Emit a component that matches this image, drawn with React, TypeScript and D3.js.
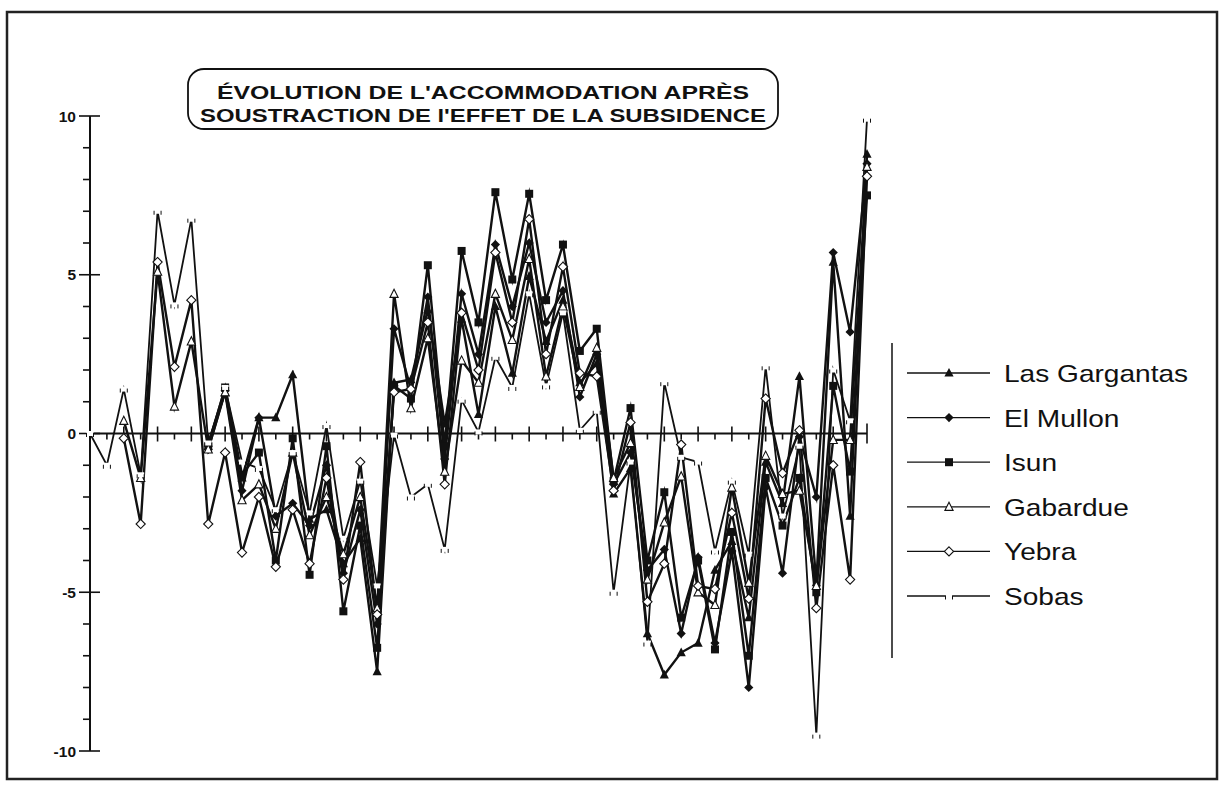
import React from 'react';
import * as d3 from 'd3';

const W = 1223;
const H = 785;

// points along the horizontal axis (one per tick), values in the units of the y axis
const steps = d3.range(0, 47);
const yTicks = d3.range(-10, 11);
const yLabels = [10, 5, 0, -5, -10];

const titleLines = ["ÉVOLUTION DE L'ACCOMMODATION APRÈS", "SOUSTRACTION DE l'EFFET DE LA SUBSIDENCE"];

const N = null;

const lasGargantas = [N, N, N, N, N, N, N, -0.3, 1.3, -1.4, 0.5, 0.5, 1.85, -2.7, -2.4, -4.1, -3.3, -7.5, 1.6, 1.7, 3.9, 0.3, 3.6, 0.6, 4.0, 1.9, 4.95, 2.9, 4.2, 1.6, 2.2, -1.9, -1.1, -6.3, -7.6, -6.9, -6.6, -4.3, -3.4, -5.8, -0.9, -2.2, 1.8, -4.7, 5.4, -2.6, 8.8];
const elMullon = [N, N, N, N, N, N, N, -0.5, 1.35, -1.8, 0.5, -2.6, -2.2, -2.9, -1.0, -4.4, -2.4, -6.0, 3.3, 1.4, 4.3, -0.8, 4.4, 2.5, 5.95, 4.0, 6.0, 3.5, 4.5, 1.15, 2.5, -1.6, -0.6, -4.3, -3.65, -6.3, -3.9, -6.6, -3.7, -8.0, -1.7, -4.4, -0.1, -2.0, 5.7, 3.2, 8.5];
const isun = [N, N, N, N, N, N, N, -0.4, 1.45, -1.3, -0.6, -4.0, -0.15, -4.45, -0.4, -5.6, -2.9, -6.75, 1.5, 1.1, 5.3, -0.4, 5.75, 3.5, 7.6, 4.85, 7.55, 4.2, 5.95, 2.6, 3.3, -1.5, 0.8, -4.0, -1.85, -5.8, -4.0, -6.8, -3.1, -7.0, -1.4, -2.9, -1.4, -5.0, 1.5, -1.2, 7.5];
const gabardue = [N, N, 0.4, -1.4, 5.1, 0.85, 2.9, -0.5, 1.3, -2.1, -1.6, -3.0, -0.6, -3.2, -2.0, -3.8, -2.0, -5.5, 4.4, 0.8, 3.0, -1.2, 2.3, 1.6, 4.4, 2.95, 5.5, 1.8, 4.0, 1.47, 2.7, -1.4, -0.3, -4.6, -2.8, -1.35, -5.0, -5.4, -1.7, -4.7, -0.7, -1.9, -1.8, -4.8, -0.2, -0.2, 8.4];
const yebra = [N, N, -0.15, -2.85, 5.4, 2.1, 4.2, -2.85, -0.6, -3.75, -2.0, -4.2, -2.4, -4.1, -1.4, -4.6, -0.9, -5.7, 1.3, 1.4, 3.5, -1.6, 3.8, 2.0, 5.7, 3.5, 6.75, 2.5, 5.25, 1.9, 1.8, -1.8, 0.35, -5.3, -4.1, -0.35, -4.8, -4.9, -2.5, -5.2, 1.1, -1.25, 0.1, -5.5, -1.0, -4.6, 8.1];
const sobas = [0, -1.0, 1.4, -1.3, 7.0, 4.05, 6.75, -0.3, 1.45, -0.9, -1.1, -2.4, -0.6, -2.5, 0.25, -3.3, -1.5, -4.8, -0.05, -2.0, -1.6, -3.65, 1.05, 0.05, 2.4, 1.45, 4.4, 1.5, 3.8, 0.1, 0.7, -5.0, -0.9, -6.6, 1.6, -0.75, -0.9, -3.7, -1.5, -3.8, 2.1, -2.6, -0.4, -9.5, 2.0, 0.4, 9.9];

const seriesNames = ['Las Gargantas', 'El Mullon', 'Isun', 'Gabardue', 'Yebra', 'Sobas'];
const seriesValues = [lasGargantas, elMullon, isun, gabardue, yebra, sobas];
const seriesMarkers = ['triangle', 'diamond', 'square', 'openTriangle', 'openDiamond', 'gap'];

const font = "'Liberation Sans', Arial, Helvetica, sans-serif";

const Marker = ({ type, x, y }: { type: string; x: number; y: number }) => {
  const s = 4.6;
  switch (type) {
    case 'triangle':
      return <path d={`M${x},${y - s - 0.5}L${x + s},${y + s - 1}L${x - s},${y + s - 1}Z`} fill="#111" />;
    case 'diamond':
      return <path d={`M${x},${y - s}L${x + s},${y}L${x},${y + s}L${x - s},${y}Z`} fill="#111" />;
    case 'square':
      return <rect x={x - 4} y={y - 4} width={8} height={8} fill="#111" />;
    case 'openTriangle':
      return <path d={`M${x},${y - s}L${x + s - 0.5},${y + s - 1}L${x - s + 0.5},${y + s - 1}Z`} fill="#fff" stroke="#111" strokeWidth={1.1} />;
    case 'openDiamond':
      return <path d={`M${x},${y - s}L${x + s},${y}L${x},${y + s}L${x - s},${y}Z`} fill="#fff" stroke="#111" strokeWidth={1.1} />;
    default:
      return (
        <g>
          <rect x={x - 3.5} y={y - 2.5} width={7} height={5} fill="#fff" />
          <line x1={x - 3.5} x2={x - 3.5} y1={y - 0.5} y2={y + 3.5} stroke="#111" strokeWidth={1} />
          <line x1={x + 3.5} x2={x + 3.5} y1={y - 0.5} y2={y + 3.5} stroke="#111" strokeWidth={1} />
        </g>
      );
  }
};

const App = () => {
  const x = d3.scaleLinear().domain([0, 46]).range([90, 867]);
  const y = d3.scaleLinear().domain([-10, 10]).range([751, 116]);

  const line = d3
    .line<number | null>()
    .defined((d) => d !== null)
    .x((d, i) => x(i))
    .y((d) => y(d as number));

  const legendY = d3.scalePoint<string>().domain(seriesNames).range([373, 596]);

  return (
    <svg width={W} height={H} style={{ position: 'absolute', left: 0, top: 0, background: '#fff' }} fontFamily={font}>
      <rect x={0} y={0} width={W} height={H} fill="#fff" />
      {/* outer frame */}
      <rect x={7} y={12} width={1210} height={767} fill="none" stroke="#222" strokeWidth={2.5} />

      {/* title box */}
      <rect x={188} y={69} width={590} height={60} rx={16} ry={16} fill="#fff" stroke="#111" strokeWidth={1.8} />
      {titleLines.map((t, i) => (
        <text key={t} x={483} y={99 + i * 23} textAnchor="middle" fontSize={17.5} fontWeight="bold" fill="#111"
          textLength={i === 0 ? 532 : 566} lengthAdjust="spacingAndGlyphs">
          {t}
        </text>
      ))}

      {/* y axis */}
      <line x1={x(0)} x2={x(0)} y1={y(10)} y2={y(-10)} stroke="#111" strokeWidth={2} />
      {yTicks.map((t) => (
        <line key={t} x1={t % 5 === 0 ? x(0) - 11 : x(0) - 7} x2={t % 5 === 0 ? x(0) + 10 : x(0)} y1={y(t)} y2={y(t)} stroke="#111" strokeWidth={1.6} />
      ))}
      {yLabels.map((t) => (
        <text key={t} x={x(0) - 14} y={y(t) + 5.5} textAnchor="end" fontSize={15.5} fontWeight="bold" fill="#111">
          {t}
        </text>
      ))}

      {/* x axis on the zero line */}
      <line x1={x(0)} x2={x(46)} y1={y(0)} y2={y(0)} stroke="#111" strokeWidth={2} />
      {steps.slice(1).map((s) => {
        const last = s === 46;
        const long = s % 2 === 0;
        return (
          <line key={s} x1={x(s)} x2={x(s)} y1={last ? y(0) - 10 : long ? y(0) - 7 : y(0)} y2={last ? y(0) + 10 : long ? y(0) + 8 : y(0) + 6}
            stroke="#111" strokeWidth={1.6} />
        );
      })}

      {/* series lines */}
      {seriesValues.map((vals, k) => (
        <path key={seriesNames[k]} d={line(vals) || ''} fill="none" stroke="#111" strokeWidth={k === 5 ? 1.8 : 2.4} strokeLinejoin="miter" strokeMiterlimit={6} />
      ))}
      {/* markers */}
      {seriesValues.map((vals, k) =>
        vals.map((v, i) => (v === null ? null : <Marker key={`${k}-${i}`} type={seriesMarkers[k]} x={x(i)} y={y(v)} />))
      )}

      {/* legend */}
      <line x1={892} x2={892} y1={343} y2={658} stroke="#111" strokeWidth={1.5} />
      {seriesNames.map((name, k) => {
        const ly = legendY(name) as number;
        return (
          <g key={name}>
            <line x1={907} x2={990} y1={ly} y2={ly} stroke="#111" strokeWidth={1.3} />
            <Marker type={seriesMarkers[k]} x={949} y={ly} />
            <text transform={`translate(1004,${ly + 9}) scale(1.17,1)`} fontSize={24} fill="#111">
              {name}
            </text>
          </g>
        );
      })}
    </svg>
  );
};

export default App;
